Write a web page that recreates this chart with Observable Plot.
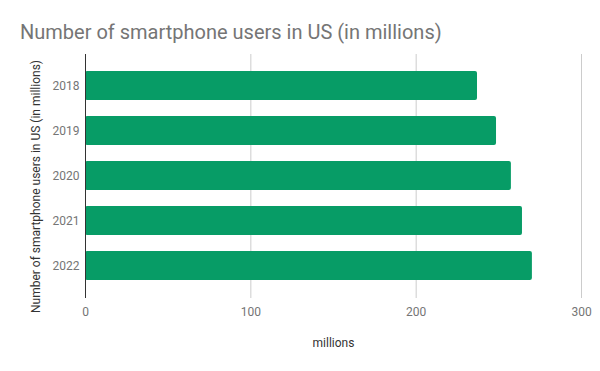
<!DOCTYPE html>
<html>
<head>
<meta charset="utf-8">
<script src="https://cdn.jsdelivr.net/npm/d3@7"></script>
<script src="https://cdn.jsdelivr.net/npm/@observablehq/plot@0.6"></script>
<style>
  html, body { margin: 0; padding: 0; background: #fff; }
  #wrap { width: 600px; height: 371px; position: relative; font-family: Roboto, sans-serif; }
  #title { height: 50px; box-sizing: border-box; padding: 20px 0 0 20px; font-size: 20px; line-height: 24px; color: #757575; white-space: nowrap; }
  svg { display: block; }
</style>
</head>
<body>
<div id="wrap">
  <div id="title">Number of smartphone users in US (in millions)</div>
  <div id="chart"></div>
</div>
<script>
const years = ["2018", "2019", "2020", "2021", "2022"];
const users = [237.1, 248.6, 257.6, 264.3, 270.3];
const xTicks = [0, 100, 200, 300];
const xTitle = "millions";
const yTitle = "Number of smartphone users in US (in millions)";

const data = years.map((y, i) => ({year: y, value: users[i]}));

const chart = Plot.plot({
  width: 600,
  height: 321,
  marginTop: 4,
  marginBottom: 73,
  marginLeft: 85,
  marginRight: 19,
  style: {fontFamily: "Roboto, sans-serif", fontSize: "12px", background: "#fff"},
  x: {domain: [0, 300], ticks: xTicks, label: null},
  y: {domain: years, padding: 0.35, label: null},
  marks: [
    Plot.gridX(xTicks, {stroke: "#cccccc", strokeOpacity: 1, strokeWidth: 1}),
    Plot.barX(data, {x: "value", y: "year", fill: "#079c66", rx: 2}),
    Plot.ruleX([0], {stroke: "#333333", strokeWidth: 1}),
    Plot.axisX(xTicks, {tickSize: 0, tickPadding: 9, fill: "#757575", fontSize: 12, label: null}),
    Plot.axisY({tickSize: 0, tickPadding: 6, fill: "#757575", fontSize: 12, label: null}),
    Plot.text([xTitle], {frameAnchor: "bottom", dy: 45, fill: "#333333", fontSize: 12, lineAnchor: "middle", textAnchor: "middle"}),
    Plot.text([yTitle], {frameAnchor: "left", rotate: -90, dx: -49, dy: 10, fill: "#333333", fontSize: 12, lineAnchor: "middle", textAnchor: "middle"})
  ]
});
document.getElementById("chart").appendChild(chart);
</script>
</body>
</html>
